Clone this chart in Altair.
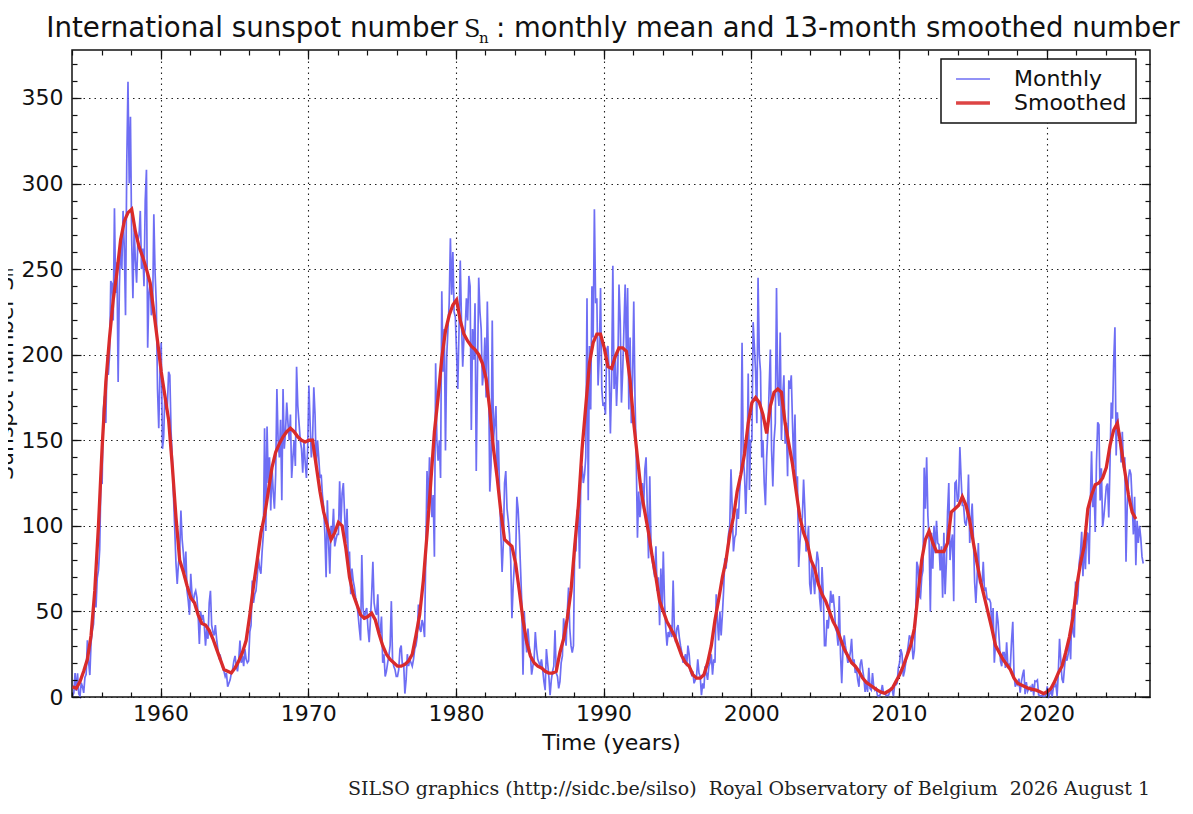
import altair as alt
import pandas as pd

# ---------------- data ----------------
START_YEAR = 1954

TITLE_LEFT = "International sunspot number"
TITLE_SYMBOL = "S"
TITLE_SUB = "n"
TITLE_RIGHT = ": monthly mean and 13-month smoothed number"
X_TITLE = "Time (years)"
Y_TITLE = "Sunspot number Sₙ"
FOOTER = "SILSO graphics (http://sidc.be/silso) \u00a0Royal Observatory of Belgium \u00a02026 August 1"
SERIES = ["Monthly", "Smoothed"]

# monthly mean sunspot number, Jan 1954 onwards (12 values per year)
MONTHLY_1950S = [
    0.7, 2.4, 14.0, 3.6, 13.8, 1.9, 0.5, 8.3, 6.1, 2.4, 11.4, 13.3,
    33.1, 20.4, 12.8, 31.9, 38.7, 42.6, 60.5, 52.3, 69.4, 74.1, 86.2, 126.4,
    125.5, 168.3, 176.0, 160.1, 198.6, 188.2, 199.4, 243.0, 241.5, 220.0, 285.5, 236.0,
    254, 184, 240, 268, 250, 284, 262, 223, 312, 359.4, 300, 339,
    267, 233, 274, 255, 242, 266, 270, 284, 250, 262, 240, 290,
    308, 204, 236, 242, 223, 226, 282, 248, 230, 180, 157, 190,
]
MONTHLY_1960S = [
    207, 145, 152, 178, 168, 170, 190, 188, 155, 140, 117, 98,
    78, 66, 78, 84, 109, 92, 84, 72, 85, 62, 56, 48,
    72, 60, 55, 60, 62, 58, 48, 31, 50, 45, 48, 42,
    30, 40, 34, 55, 62, 42, 38, 36, 42, 34, 28, 23,
    24, 20, 17, 15, 12, 14, 6, 8, 10, 14, 16, 21,
    24, 18, 15, 22, 33, 20, 24, 18, 28, 22, 20, 21,
    38, 42, 68, 55, 60, 62, 70, 81, 75, 72, 85, 95,
    157, 97, 158, 125, 140, 109, 135, 120, 110, 130, 180, 150,
    140, 162, 115, 180, 145, 155, 172, 160, 150, 165, 128, 140,
    150, 135, 193, 170, 160, 150, 145, 131, 150, 137, 128, 145,
]
MONTHLY_1970S = [
    182, 160, 140, 150, 181, 165, 133, 150, 140, 128, 130, 118,
    111, 95, 70, 115, 90, 72, 100, 95, 110, 88, 92, 95,
    95, 126, 100, 119, 125, 107, 90, 110, 80, 85, 60, 75,
    68, 64, 58, 55, 48, 40, 33, 83, 52, 45, 50, 52,
    40, 32, 45, 60, 79, 55, 50, 48, 60, 36, 38, 47,
    20, 25, 12, 15, 20, 24, 30, 56, 22, 18, 16, 12,
    12, 16, 28, 30, 18, 20, 2, 10, 25, 18, 22, 20,
    18, 22, 28, 30, 35, 54, 40, 38, 45, 42, 35, 85,
    132, 110, 140, 125, 105, 118, 82, 195, 150, 138, 150, 128,
    237, 190, 215, 144, 199, 215, 230, 268, 235, 260, 225, 222,
]
MONTHLY_1980S = [
    201, 180, 215, 255, 220, 193, 210, 215, 233, 220, 246, 240,
    156, 215, 197, 230, 132, 190, 245, 225, 215, 182, 190, 210,
    175, 231, 190, 120, 135, 220, 150, 160, 170, 130, 150, 118,
    95, 73, 90, 125, 132, 110, 103, 95, 80, 46, 65, 78,
    80, 117, 110, 95, 75, 55, 13, 50, 35, 26, 40, 30,
    25, 13, 18, 22, 38, 28, 22, 20, 18, 22, 16, 9,
    4, 28, 20, 12, 1, 10, 15, 18, 39, 14, 12, 5,
    9, 20, 24, 46, 38, 30, 50, 64, 40, 30, 26, 30,
    90, 85, 109, 110, 75, 130, 135, 125, 130, 140, 233, 115,
    205, 168, 240, 210, 285, 230, 233, 182, 200, 239, 180, 170,
]
MONTHLY_1990S = [
    172, 165, 203, 205, 190, 154, 185, 252, 180, 200, 170, 190,
    241, 220, 172, 190, 215, 241, 200, 239, 168, 210, 160, 185,
    231, 175, 140, 93, 120, 105, 115, 125, 110, 133, 140, 110,
    81, 129, 90, 80, 75, 70, 88, 62, 70, 42, 75, 52,
    85, 55, 40, 30, 38, 35, 42, 35, 68, 40, 32, 40,
    42, 35, 30, 26, 20, 22, 25, 18, 30, 25, 15, 13,
    15, 8, 10, 12, 22, 14, 12, 1, 8, 5, 18, 14,
    10, 18, 20, 25, 13, 22, 20, 60, 45, 33, 50, 36,
    48, 62, 81, 75, 85, 95, 100, 133, 110, 85, 93, 95,
    110, 104, 120, 130, 207, 140, 130, 107, 130, 189, 121, 150,
]
MONTHLY_2000S = [
    150, 219, 205, 190, 160, 245, 200, 190, 140, 150, 125, 112,
    140, 156, 180, 203, 144, 123, 150, 160, 239, 180, 170, 213,
    150, 175, 188, 148, 160, 129, 185, 180, 188, 160, 134, 165,
    120, 129, 76, 90, 100, 105, 127, 110, 85, 89, 100, 66,
    60, 79, 70, 60, 75, 85, 80, 58, 50, 76, 60, 30,
    30, 45, 40, 50, 62, 55, 60, 52, 40, 38, 30, 59,
    25, 8, 28, 36, 30, 25, 20, 22, 26, 34, 20, 22,
    14, 16, 10, 6, 19, 22, 16, 11, 3, 9, 3, 17,
    5, 4, 14, 6, 4, 5, 1, 0.5, 1, 3, 7, 2,
    2, 1, 1, 1, 3, 5, 4, 0.5, 7, 7, 8, 17,
]
MONTHLY_2010S = [
    20, 28, 25, 12, 15, 20, 25, 30, 36, 34, 32, 22,
    27, 45, 79, 76, 59, 58, 70, 74, 134, 110, 140, 106,
    92, 50, 96, 75, 100, 84, 103, 90, 89, 74, 88, 58,
    96, 60, 78, 108, 125, 80, 90, 95, 56, 125, 126, 114,
    117, 146, 128, 112, 112, 102, 100, 106, 130, 90, 103, 113,
    93, 67, 55, 70, 90, 67, 66, 65, 79, 62, 64, 58,
    57, 57, 55, 38, 52, 20, 32, 50, 44, 33, 21, 18,
    26, 26, 17, 32, 18, 19, 18, 33, 44, 13, 6, 8,
    7, 10.7, 2.5, 9, 13, 16, 1.6, 8.7, 3.3, 4.9, 5.9, 3.1,
    7.7, 0.8, 9.4, 9.1, 9.9, 1.2, 0.9, 0.5, 1.1, 0.4, 0.5, 1.5,
]
MONTHLY_2020S = [
    6.2, 0.2, 1.5, 5.2, 0.2, 5.8, 6.1, 7.5, 0.6, 14.4, 34.0, 21.8,
    10.4, 8.2, 17.2, 24.5, 21.2, 25.0, 34.4, 22.0, 51.3, 37.4, 34.8, 67.5,
    54.0, 59.7, 78.5, 84.1, 96.5, 70.5, 91.4, 74.6, 96.0, 95.5, 77.6, 113.1,
    143.6, 110.9, 123.3, 96.4, 137.0, 160.5, 159.1, 114.8, 133.6, 99.4, 105.4, 114.2,
    123.0, 124.7, 104.9, 136.5, 172.1, 162.6, 196.0, 216.0, 141.1, 166.4, 152.5, 154.5,
    137, 155, 134, 140, 79, 112, 128, 133, 130, 114, 95, 117,
    77, 103, 90, 100, 93, 82, 78,
]

# 13-month smoothed number, read every third month (Jan, Apr, Jul, Oct) from Jan 1954
SMOOTHED_1950S = [
    6, 5, 9, 15,  22, 36, 62, 100,  146, 184, 210, 232,
    248, 267, 278, 283,  285, 272, 263, 257,  250, 242, 225, 208,
]
SMOOTHED_1960S = [
    190, 176, 162, 135,  105, 80, 73, 65,  58, 55, 48, 43,  42, 39, 34, 28,
    22, 16, 15, 14,  17, 21, 26, 33,  48, 65, 80, 96,  106, 120, 134, 143,
    148, 152, 155, 157,  155, 152, 150, 149,
]
SMOOTHED_1970S = [
    150, 150, 135, 120,  108, 100, 92, 96,  102, 100, 87, 70,  60, 54, 48, 46,
    47, 49, 45, 37,  30, 25, 22, 20,  18, 18, 19, 21,  25, 36, 48, 68,
    95, 125, 155, 175,  198, 214, 223, 229,
]
SMOOTHED_1980S = [
    232, 220, 212, 208,  205, 203, 200, 195,  186, 168, 145, 128,  108, 92, 90, 88,
    78, 62, 45, 32,  24, 20, 18, 17,  15, 14, 14, 15,  26, 34, 46, 62,
    88, 112, 145, 170,  195, 207, 212, 212,
]
SMOOTHED_1990S = [
    204, 193, 192, 199,  204, 204, 202, 185,  160, 140, 120, 108,  96, 82, 70, 56,
    50, 44, 40, 36,  30, 24, 20, 18,  13, 11, 11, 13,  20, 30, 45, 57,
    70, 80, 95, 105,  120, 130, 142, 160,
]
SMOOTHED_2000S = [
    172, 175, 172, 165,  154, 170, 178, 180,  178, 160, 148, 136,  120, 105, 96, 90,
    80, 75, 66, 60,  56, 50, 44, 40,  34, 28, 24, 20,  18, 15, 11, 8.5,
    7, 5.5, 4, 2.8,  2.2, 3.5, 5, 9,
]
SMOOTHED_2010S = [
    13, 18, 24, 30,  40, 60, 80, 92,  97, 90, 85, 85,  85, 90, 108, 110,
    112, 117, 112, 103,  90, 78, 67, 58,  49, 40, 30, 26,  22, 19, 16, 11,
    8, 7, 6, 5,  4.5, 4, 3, 2,
]
SMOOTHED_2020S = [
    3, 5, 9, 14,  18, 26, 35, 47,  65, 78, 88, 110,  118, 124, 125, 128,
    134, 147, 156, 160,  146, 132, 118, 108,  104,
]

X_MAJOR = [1960, 1970, 1980, 1990, 2000, 2010, 2020]
X_MINOR = list(range(1954, 2027, 2))
Y_MAJOR = [0, 50, 100, 150, 200, 250, 300, 350]
Y_MINOR = list(range(0, 371, 10))
X_DOMAIN = [1954, 2027]
Y_DOMAIN = [0, 378]

# ---------------- tables ----------------
monthly = (MONTHLY_1950S + MONTHLY_1960S + MONTHLY_1970S + MONTHLY_1980S
           + MONTHLY_1990S + MONTHLY_2000S + MONTHLY_2010S + MONTHLY_2020S)
smoothed = (SMOOTHED_1950S + SMOOTHED_1960S + SMOOTHED_1970S + SMOOTHED_1980S
            + SMOOTHED_1990S + SMOOTHED_2000S + SMOOTHED_2010S + SMOOTHED_2020S)

mdf = pd.DataFrame({
    "t": [START_YEAR + (i + 0.5) / 12 for i in range(len(monthly))],
    "v": monthly,
    "series": SERIES[0],
})
sdf = pd.DataFrame({
    "t": [START_YEAR + (3 * i + 0.5) / 12 for i in range(len(smoothed))],
    "v": smoothed,
    "series": SERIES[1],
})
fdf = pd.DataFrame({"label": [FOOTER]})

# ---------------- styling ----------------
W, H = 1078, 647
FONT = "DejaVu Sans"
SERIF = "DejaVu Serif"
INK = "#111111"

xs = alt.Scale(domain=X_DOMAIN, nice=False, zero=False)
ys = alt.Scale(domain=Y_DOMAIN, nice=False, zero=False)


def tick_axis(orient, values, size, offset):
    return alt.Axis(orient=orient, values=values, offset=offset, grid=False,
                    labels=False, domain=False, ticks=True, tickSize=size,
                    tickColor=INK, tickWidth=1.2, title=None, zindex=2)


x_main = alt.Axis(orient="bottom", values=X_MAJOR, format="d", grid=True,
                  gridDash=[1.5, 4], gridColor="#222222", gridWidth=1.1,
                  ticks=False, domain=False, labelFont=FONT, labelFontSize=22,
                  labelColor=INK, labelPadding=6, labelFlush=False,
                  title=X_TITLE, titleFont=FONT, titleFontSize=22,
                  titleFontWeight="normal", titleColor=INK, titleY=52,
                  titleBaseline="alphabetic", zindex=0)
y_main = alt.Axis(orient="left", values=Y_MAJOR, format="d", grid=True,
                  gridDash=[1.5, 4], gridColor="#222222", gridWidth=1.1,
                  ticks=False, domain=False, labelFont=FONT, labelFontSize=22,
                  labelColor=INK, labelPadding=9, labelFlush=False,
                  title=Y_TITLE, titleFont=FONT, titleFontSize=22,
                  titleFontWeight="normal", titleColor=INK, titleAngle=270,
                  titleX=-60, titleY=H / 2, titleAlign="center",
                  titleBaseline="alphabetic", zindex=0)

LEG = alt.Legend(title=None, orient="none", legendX=869, legendY=9, padding=9,
                 fillColor="white", strokeColor=INK, labelFont=FONT,
                 labelFontSize=22, labelColor=INK, symbolType="M-3,0H3",
                 symbolSize=128, symbolOffset=12, labelOffset=30, rowPadding=2,
                 cornerRadius=0)

color = alt.Color("series:N", scale=alt.Scale(domain=SERIES, range=["#5a5af2", "#d92b2b"]), legend=LEG)
swidth = alt.StrokeWidth("series:N", scale=alt.Scale(domain=SERIES, range=[1.7, 3.3]), legend=LEG)

monthly_line = alt.Chart(mdf).mark_line(opacity=0.88).encode(
    x=alt.X("t:Q", scale=xs, axis=x_main),
    y=alt.Y("v:Q", scale=ys, axis=y_main),
    color=color, strokeWidth=swidth,
)
smoothed_line = alt.Chart(sdf).mark_line().encode(
    x=alt.X("t:Q", scale=xs, axis=tick_axis("top", X_MAJOR, 9, -H)),
    y=alt.Y("v:Q", scale=ys, axis=tick_axis("right", Y_MAJOR, 9, -W)),
    color=color, strokeWidth=swidth,
)
ticks_a = alt.Chart(sdf).mark_line(strokeOpacity=0).encode(
    x=alt.X("t:Q", scale=xs, axis=tick_axis("top", X_MINOR, 5, -H)),
    y=alt.Y("v:Q", scale=ys, axis=tick_axis("right", Y_MINOR, 5, -W)),
)
ticks_b = alt.Chart(sdf).mark_line(strokeOpacity=0).encode(
    x=alt.X("t:Q", scale=xs, axis=tick_axis("bottom", X_MAJOR, 9, -H)),
    y=alt.Y("v:Q", scale=ys, axis=tick_axis("left", Y_MAJOR, 9, -W)),
)
ticks_c = alt.Chart(sdf).mark_line(strokeOpacity=0).encode(
    x=alt.X("t:Q", scale=xs, axis=tick_axis("bottom", X_MINOR, 5, -H)),
    y=alt.Y("v:Q", scale=ys, axis=tick_axis("left", Y_MINOR, 5, -W)),
)


def title_piece(text, font, size, align, x, y):
    return alt.Chart(pd.DataFrame({"label": [text]})).mark_text(
        font=font, fontSize=size, align=align, baseline="alphabetic", color=INK
    ).encode(x=alt.value(x), y=alt.value(y), text="label:N")


title_a = title_piece(TITLE_LEFT, FONT, 27.7, "right", 386, -13)
title_s = title_piece(TITLE_SYMBOL, SERIF, 24, "left", 392, -13)
title_n = title_piece(TITLE_SUB, SERIF, 15, "left", 407, -7)
title_b = title_piece(TITLE_RIGHT, FONT, 27.5, "left", 424, -13)

footer = alt.Chart(fdf).mark_text(font=SERIF, fontSize=19, align="right",
                                  baseline="alphabetic", color="#222222").encode(
    x=alt.value(W), y=alt.value(745), text="label:N",
)

chart = alt.layer(
    monthly_line, smoothed_line, ticks_a, ticks_b, ticks_c,
    title_a, title_s, title_n, title_b, footer
).resolve_axis(x="independent", y="independent").properties(
    width=W, height=H,
    autosize=alt.AutoSizeParams(type="none"),
    padding={"left": 64, "top": 42, "right": 35, "bottom": 109},
).configure_view(stroke=INK, strokeWidth=1.5).configure_legend(strokeWidth=1.5)

chart.save("out.html", embed_options={"renderer": "svg", "actions": False})
